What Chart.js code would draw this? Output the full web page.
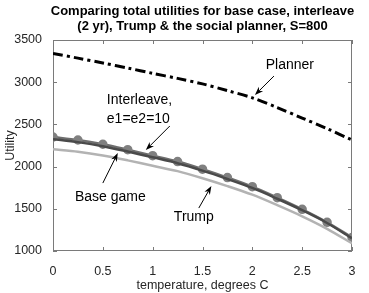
<!DOCTYPE html>
<html>
<head>
    <meta charset="utf-8">
    <style>
        html, body { margin: 0; padding: 0; background: #fff; }
        #wrap { width: 369px; height: 293px; }
    </style>
</head>
<body>
<div id="wrap"><canvas id="util-chart" width="369" height="293"></canvas></div>
<script src="https://cdn.jsdelivr.net/npm/chart.js"></script>
<script type="text/javascript">
    // temperature, degrees C
    const temps = [0, 0.25, 0.5, 0.75, 1, 1.25, 1.5, 1.75, 2, 2.25, 2.5, 2.75, 3];

    const planner    = [3340, 3285, 3228, 3168, 3105, 3045, 2980, 2900, 2815, 2700, 2575, 2450, 2315];
    const interleave = [2350, 2315, 2265, 2200, 2130, 2060, 1970, 1870, 1762, 1632, 1494, 1340, 1160];
    const baseGame   = [2325, 2290, 2242, 2178, 2110, 2040, 1952, 1853, 1747, 1619, 1483, 1332, 1150];
    const trump      = [2205, 2176, 2132, 2074, 2010, 1946, 1862, 1769, 1667, 1543, 1411, 1263, 1090];

    const xTicks = [0, 0.5, 1, 1.5, 2, 2.5, 3];
    const yTicks = [1000, 1500, 2000, 2500, 3000, 3500];

    const titleLines = ['Comparing total utilities for base case, interleave',
                        '(2 yr), Trump & the social planner, S=800'];

    const FONT = '"Liberation Sans", Arial, Helvetica, sans-serif';

    function pts(ys) {
        return temps.map((t, i) => ({ x: t, y: ys[i] }));
    }

    // text labels with arrows, in data coordinates
    const notes = [
        { lines: ['Planner'], x: 2.376, y: 3204, align: 'center', tail: [2.217, 3073], tip: [2.026, 2848] },
        { lines: ['Interleave,', 'e1=e2=10'], x: 0.54, y: 2789, align: 'left', tail: [1.172, 2481], tip: [0.931, 2196] },
        { lines: ['Base game'], x: 0.575, y: 1640, align: 'center', tail: [0.5, 1805], tip: [0.65, 2161] },
        { lines: ['Trump'], x: 1.413, y: 1403, align: 'center', tail: [1.463, 1509], tip: [1.589, 1770] }
    ];

    const boxPlugin = {
        id: 'boxPlugin',
        beforeDatasetsDraw(chart) {
            const { ctx, chartArea: a, scales } = chart;
            ctx.save();
            ctx.strokeStyle = '#7a7a7a';
            ctx.lineWidth = 1;
            ctx.strokeRect(a.left + 0.5, a.top + 0.5, a.right - a.left - 1, a.bottom - a.top - 1);
            ctx.beginPath();
            xTicks.forEach(v => {
                const px = Math.round(scales.x.getPixelForValue(v)) + 0.5;
                ctx.moveTo(px, a.bottom); ctx.lineTo(px, a.bottom - 4);
                ctx.moveTo(px, a.top); ctx.lineTo(px, a.top + 4);
            });
            yTicks.forEach(v => {
                const py = Math.round(scales.y.getPixelForValue(v)) + 0.5;
                ctx.moveTo(a.left, py); ctx.lineTo(a.left + 4, py);
                ctx.moveTo(a.right, py); ctx.lineTo(a.right - 4, py);
            });
            ctx.stroke();
            ctx.restore();
        },
        afterDraw(chart) {
            const { ctx, chartArea: a, scales } = chart;
            ctx.save();
            // title
            ctx.fillStyle = '#000';
            ctx.font = 'bold 13px ' + FONT;
            ctx.textAlign = 'center';
            ctx.textBaseline = 'alphabetic';
            const cx = (a.left + a.right) / 2;
            ctx.fillText(titleLines[0], cx, 15);
            ctx.fillText(titleLines[1], cx, 30);

            // annotations
            ctx.font = '14px ' + FONT;
            ctx.textBaseline = 'middle';
            notes.forEach(n => {
                const px = scales.x.getPixelForValue(n.x);
                const py = scales.y.getPixelForValue(n.y);
                ctx.textAlign = n.align;
                n.lines.forEach((s, i) => ctx.fillText(s, px, py + i * 19));

                const x1 = scales.x.getPixelForValue(n.tail[0]);
                const y1 = scales.y.getPixelForValue(n.tail[1]);
                const x2 = scales.x.getPixelForValue(n.tip[0]);
                const y2 = scales.y.getPixelForValue(n.tip[1]);
                const ang = Math.atan2(y2 - y1, x2 - x1);
                ctx.strokeStyle = '#000';
                ctx.lineWidth = 1;
                ctx.beginPath();
                ctx.moveTo(x1, y1);
                ctx.lineTo(x2 - 6 * Math.cos(ang), y2 - 6 * Math.sin(ang));
                ctx.stroke();
                ctx.beginPath();
                ctx.moveTo(x2, y2);
                ctx.lineTo(x2 - 9 * Math.cos(ang - 0.35), y2 - 9 * Math.sin(ang - 0.35));
                ctx.lineTo(x2 - 6 * Math.cos(ang), y2 - 6 * Math.sin(ang));
                ctx.lineTo(x2 - 9 * Math.cos(ang + 0.35), y2 - 9 * Math.sin(ang + 0.35));
                ctx.closePath();
                ctx.fillStyle = '#000';
                ctx.fill();
            });
            ctx.restore();
        }
    };

    const utilChart = new Chart(document.getElementById('util-chart'), {
        type: 'line',
        data: {
            datasets: [
                { label: 'Trump', data: pts(trump), borderColor: '#b3b3b3', borderWidth: 2.5, pointRadius: 0, tension: 0.3 },
                { label: 'Base game', data: pts(baseGame), borderColor: '#4a4a4a', borderWidth: 2.5, pointRadius: 0, tension: 0.3 },
                { label: 'Interleave', data: pts(interleave), borderColor: '#6e6e6e', borderWidth: 2.5,
                  pointRadius: 3.5, pointBackgroundColor: '#808080', pointBorderColor: '#808080', tension: 0.3 },
                { label: 'Planner', data: pts(planner), borderColor: '#000', borderWidth: 3, pointRadius: 0,
                  borderDash: [10, 4, 3, 4], tension: 0.3 }
            ]
        },
        options: {
            responsive: false,
            animation: false,
            events: [],
            layout: { padding: { top: 40, right: 17, left: 0, bottom: 0 } },
            plugins: { legend: { display: false }, tooltip: { enabled: false }, title: { display: false } },
            scales: {
                x: {
                    type: 'linear', min: 0, max: 3,
                    afterBuildTicks: s => { s.ticks = xTicks.map(v => ({ value: v })); },
                    afterFit: s => { s.height = 42; },
                    grid: { display: false }, border: { display: false },
                    ticks: { color: '#262626', padding: 5, font: { size: 12.5, family: FONT }, maxRotation: 0,
                             callback: v => String(v) },
                    title: { display: true, text: 'temperature, degrees C', color: '#262626',
                             font: { size: 12.5, family: FONT }, padding: { top: 1, bottom: 0 } }
                },
                y: {
                    min: 1000, max: 3500,
                    afterBuildTicks: s => { s.ticks = yTicks.map(v => ({ value: v })); },
                    afterFit: s => { s.width = 53; },
                    grid: { display: false }, border: { display: false },
                    ticks: { color: '#262626', padding: 3, font: { size: 12.5, family: FONT },
                             callback: v => String(v) },
                    title: { display: true, text: 'Utility', color: '#262626',
                             font: { size: 12.5, family: FONT }, padding: { top: 3, bottom: 1 } }
                }
            }
        },
        plugins: [boxPlugin]
    });
</script>
</body>
</html>
